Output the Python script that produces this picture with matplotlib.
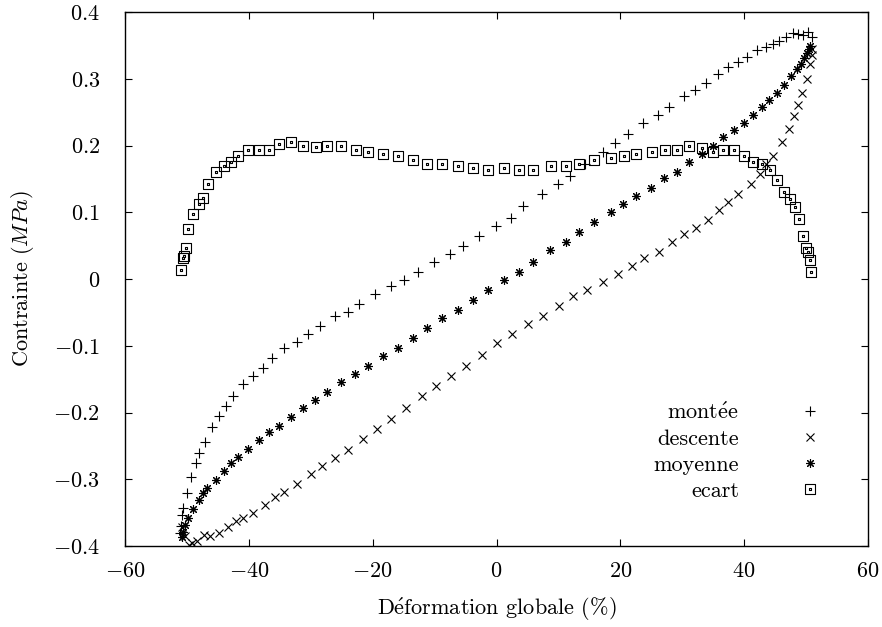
import numpy as np
import matplotlib
matplotlib.use("Agg")
import matplotlib.pyplot as plt
from matplotlib.path import Path
from matplotlib.ticker import FixedLocator, FixedFormatter

plt.rcParams['mathtext.fontset'] = 'cm'
plt.rcParams['font.family'] = ['cmr10', 'DejaVu Serif']
plt.rcParams['axes.formatter.use_mathtext'] = True

# ---- data ----
montee_x = [-51.1, -51.0, -50.8, -50.6, -50.0, -49.4, -48.5, -48.1, -47.1, -46.0, -44.8, -43.7,
            -42.6, -41.0, -39.3, -37.7, -36.3, -34.3, -32.2, -30.4, -28.5, -26.1, -24.0, -22.2,
            -19.6, -17.0, -14.9, -12.7, -10.1, -7.5, -5.4, -2.8, -0.1, 2.3, 4.3, 7.4, 9.9, 11.9,
            14.3, 17.2, 19.1, 21.2, 23.7, 26.1, 27.9, 30.3, 32.1, 33.8, 35.8, 37.4, 39.0, 40.5,
            42.1, 43.5, 44.7, 45.6, 46.8, 47.9, 48.7, 49.5, 50.3, 51.0]
montee_y = [-0.380, -0.370, -0.353, -0.343, -0.320, -0.296, -0.275, -0.260, -0.244, -0.221, -0.205, -0.190,
            -0.175, -0.157, -0.145, -0.133, -0.118, -0.103, -0.094, -0.082, -0.071, -0.056, -0.049, -0.037,
            -0.023, -0.011, -0.001, 0.011, 0.025, 0.038, 0.049, 0.065, 0.080, 0.092, 0.109, 0.127, 0.143, 0.154,
            0.173, 0.190, 0.203, 0.217, 0.233, 0.245, 0.257, 0.274, 0.283, 0.293, 0.307, 0.317, 0.325, 0.332,
            0.343, 0.347, 0.352, 0.356, 0.362, 0.368, 0.367, 0.365, 0.370, 0.362]

descente_x = [51.0, 50.9, 50.6, 50.2, 49.4, 48.7, 48.1, 47.3, 46.1, 44.7, 43.5, 42.5, 41.1, 39.0,
              37.4, 36.0, 34.2, 32.2, 30.3, 28.4, 26.3, 23.8, 21.9, 19.6, 17.2, 14.6, 12.4, 10.1,
              7.5, 5.1, 2.5, 0.1, -2.3, -4.9, -7.4, -9.8, -12.0, -14.6, -17.0, -19.3, -21.6, -24.0,
              -26.1, -28.2, -30.0, -32.2, -34.3, -35.8, -37.4, -39.3, -41.0, -42.1, -43.4, -44.8,
              -46.3, -47.3, -48.4, -49.2, -49.7, -50.3, -50.8]
descente_y = [0.345, 0.335, 0.322, 0.300, 0.278, 0.260, 0.244, 0.225, 0.205, 0.185, 0.172, 0.158, 0.142, 0.127,
              0.115, 0.103, 0.089, 0.077, 0.067, 0.055, 0.041, 0.032, 0.020, 0.008, -0.004, -0.016, -0.026, -0.041,
              -0.055, -0.068, -0.082, -0.096, -0.114, -0.130, -0.145, -0.161, -0.176, -0.194, -0.209, -0.224, -0.239, -0.256,
              -0.268, -0.280, -0.292, -0.307, -0.319, -0.326, -0.338, -0.350, -0.358, -0.362, -0.371, -0.380,
              -0.385, -0.383, -0.392, -0.396, -0.398, -0.385, -0.372]

moyenne_x = [-50.8, -50.6, -50.3, -49.8, -49.0, -48.1, -47.4, -46.7, -45.3, -44.0, -42.9, -41.7, -40.1,
             -38.4, -36.7, -35.1, -33.2, -31.2, -29.3, -27.3, -25.1, -22.9, -20.8, -18.3, -15.9, -13.5,
             -11.2, -8.8, -6.2, -3.8, -1.4, 1.2, 3.6, 5.9, 8.6, 11.2, 13.3, 15.8, 18.5, 20.4, 22.5,
             24.9, 27.0, 29.1, 31.1, 33.2, 35.0, 36.6, 38.4, 40.0, 41.5, 42.9, 44.0, 45.3, 46.5, 47.6,
             48.5, 49.2, 49.7, 50.2, 50.5, 50.6]
moyenne_y = [-0.386, -0.379, -0.368, -0.358, -0.344, -0.331, -0.320, -0.313, -0.301, -0.287, -0.275, -0.266, -0.254,
             -0.241, -0.229, -0.220, -0.206, -0.193, -0.182, -0.169, -0.155, -0.143, -0.130, -0.116, -0.103, -0.089,
             -0.074, -0.059, -0.046, -0.032, -0.016, -0.002, 0.011, 0.026, 0.043, 0.056, 0.070, 0.085, 0.100, 0.112, 0.124,
             0.137, 0.151, 0.161, 0.176, 0.187, 0.199, 0.212, 0.223, 0.233, 0.245, 0.257, 0.268, 0.278, 0.290, 0.304,
             0.314, 0.322, 0.331, 0.338, 0.344, 0.349]

ecart_x = [-51.0, -50.6, -50.5, -50.2, -49.8, -49.0, -48.1, -47.4, -46.6, -45.3, -44.0, -42.8, -41.8,
           -40.1, -38.4, -36.7, -35.1, -33.2, -31.2, -29.2, -27.3, -25.1, -22.7, -20.7, -18.3, -15.9,
           -13.5, -11.2, -8.8, -6.2, -3.8, -1.4, 1.2, 3.6, 5.9, 8.8, 11.2, 13.3, 15.8, 18.5, 20.6,
           22.5, 25.1, 27.2, 29.1, 31.1, 33.2, 35.0, 36.6, 38.4, 40.0, 41.5, 42.9, 44.2, 45.3, 46.5,
           47.4, 48.2, 48.9, 49.5, 50.0, 50.3, 50.6, 50.8]
ecart_y = [0.013, 0.031, 0.035, 0.047, 0.075, 0.098, 0.113, 0.122, 0.143, 0.160, 0.169, 0.175, 0.184,
           0.194, 0.194, 0.194, 0.202, 0.205, 0.200, 0.198, 0.200, 0.200, 0.193, 0.190, 0.188, 0.185,
           0.178, 0.173, 0.173, 0.170, 0.166, 0.164, 0.166, 0.163, 0.164, 0.169, 0.170, 0.173, 0.178, 0.182, 0.184,
           0.187, 0.191, 0.193, 0.193, 0.200, 0.196, 0.191, 0.193, 0.193, 0.184, 0.175, 0.173, 0.163, 0.149, 0.131,
           0.120, 0.108, 0.090, 0.065, 0.047, 0.040, 0.029, 0.011]

labels = [r'mont$\acute{\mathrm{e}}$e', 'descente', 'moyenne', 'ecart']
x_ticks = [-60, -40, -20, 0, 20, 40, 60]
x_tick_labels = [r'$-60$', r'$-40$', r'$-20$', r'$0$', r'$20$', r'$40$', r'$60$']
y_ticks = [-0.4, -0.3, -0.2, -0.1, 0, 0.1, 0.2, 0.3, 0.4]
y_tick_labels = [r'$-0.4$', r'$-0.3$', r'$-0.2$', r'$-0.1$', r'$0$', r'$0.1$', r'$0.2$', r'$0.3$', r'$0.4$']

# square-with-dot marker
sq = Path.unit_rectangle()
sq = Path(sq.vertices - 0.5, sq.codes)
dot = Path((Path.unit_rectangle().vertices - 0.5) * 0.12, Path.unit_rectangle().codes)
sq_dot = Path.make_compound_path(sq, dot)

fig = plt.figure(figsize=(8.82, 6.27), dpi=100)
ax = fig.add_axes([125/882, 81/627, 743/882, 534/627])

ms = 6.5
mew = 0.8
ax.plot(montee_x, montee_y, ls='none', marker='+', ms=ms, mew=mew, color='black', label=labels[0])
ax.plot(descente_x, descente_y, ls='none', marker='x', ms=ms*0.85, mew=mew, color='black', label=labels[1])
ax.plot(moyenne_x, moyenne_y, ls='none', marker=(8, 2, 0), ms=ms*0.95, mew=mew, color='black', label=labels[2])
ax.plot(ecart_x, ecart_y, ls='none', marker=sq_dot, ms=ms*1.05, mew=mew, mfc='none', color='black', label=labels[3])

ax.set_xlim(-60, 60)
ax.set_ylim(-0.4, 0.4)
ax.xaxis.set_major_locator(FixedLocator(x_ticks))
ax.xaxis.set_major_formatter(FixedFormatter(x_tick_labels))
ax.yaxis.set_major_locator(FixedLocator(y_ticks))
ax.yaxis.set_major_formatter(FixedFormatter(y_tick_labels))
ax.tick_params(direction='in', top=True, right=True, length=5, width=0.8, labelsize=16)
ax.tick_params(axis='x', pad=11)
ax.tick_params(axis='y', pad=18)
for s in ax.spines.values():
    s.set_linewidth(1.0)

ax.set_xlabel(r'D$\acute{\mathrm{e}}$formation globale (%)', fontsize=16, labelpad=11)
ax.set_ylabel(r'Contrainte ($MPa$)', fontsize=16, labelpad=12)

leg = ax.legend(loc='lower right', bbox_to_anchor=(0.952, 0.085), frameon=False, markerfirst=False,
                fontsize=16, handlelength=2.0, handletextpad=2.2, labelspacing=0.28, borderpad=0,
                borderaxespad=0)

fig.savefig('out.png', dpi=100)
